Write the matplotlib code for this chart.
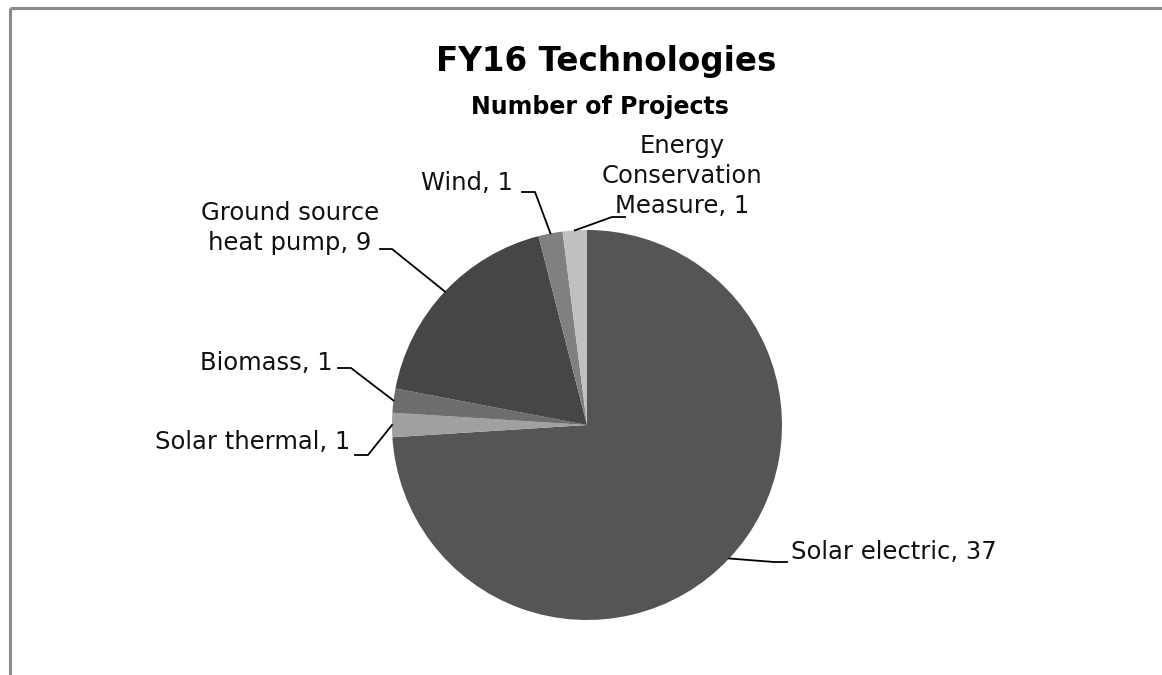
# -*- coding: utf-8 -*-
"""FY16 Technologies - numero de projetos por tecnologia (pizza em tons de cinza)."""
import numpy as np
import matplotlib
matplotlib.use("Agg")
import matplotlib.pyplot as plt

# ---------------------------------------------------------------------
# DADOS
# ---------------------------------------------------------------------
tecnologias = ["Solar electric", "Solar thermal", "Biomass",
               "Ground source\nheat pump", "Wind",
               "Energy\nConservation\nMeasure"]
projetos = [37, 1, 1, 9, 1, 1]

CORES = ["#555555", "#a0a0a0", "#6d6d6d", "#464646", "#808080", "#c0c0c0"]
FONTE = "DejaVu Sans"

W, H = 1162, 675

# posicao de cada rotulo (pixels, y a partir do topo), alinhamento,
# e ponto onde a linha guia fica horizontal (inicio, fim, y)
rotulos_pos = [
    ((791, 552), "left",   ((774, 787), 562)),
    ((350, 442), "right",  ((368, 355), 455)),
    ((333, 363), "right",  ((351, 338), 368)),
    ((290, 228), "center", ((392, 380), 249)),
    ((513, 183), "right",  ((535, 522), 192)),
    ((682, 176), "center", ((612, 625), 217)),
]

fig = plt.figure(figsize=(W / 100, H / 100), dpi=100)
ax = fig.add_axes([0, 0, 1, 1])

centro = (587, H - 425)
raio = 195
fatias, _ = ax.pie(projetos, colors=CORES, startangle=90, counterclock=False,
                   center=centro, radius=raio,
                   wedgeprops=dict(linewidth=0))

ax.set_xlim(0, W)
ax.set_ylim(0, H)
ax.set_aspect("equal")
ax.axis("off")

# moldura do grafico (so topo e esquerda aparecem no recorte)
ax.plot([9.5, W], [H - 7.5, H - 7.5], color="#8a8a8a", lw=2.2, solid_capstyle="butt")
ax.plot([9.5, 9.5], [H - 7.5, 0], color="#8a8a8a", lw=2.2, solid_capstyle="butt")

# titulo
ax.text(606, H - 62, "FY16 Technologies", ha="center", va="center",
        fontsize=23.5, fontweight="bold", family=FONTE)
ax.text(600, H - 107, "Number of Projects", ha="center", va="center",
        fontsize=17, fontweight="bold", family=FONTE)

# rotulos com linhas guia
for fatia, nome, n, (pos, ha, (hx, hy)) in zip(fatias, tecnologias, projetos, rotulos_pos):
    meio = np.deg2rad((fatia.theta1 + fatia.theta2) / 2)
    bx = centro[0] + raio * np.cos(meio)
    by = centro[1] + raio * np.sin(meio)
    ax.plot([bx, hx[0], hx[1]], [by, H - hy, H - hy], color="black", lw=1.3)
    ax.text(pos[0], H - pos[1], f"{nome}, {n}", ha=ha, va="center",
            multialignment="center", fontsize=17.5, family=FONTE,
            linespacing=1.3, color="#111111")

fig.savefig("out.png", dpi=100)
